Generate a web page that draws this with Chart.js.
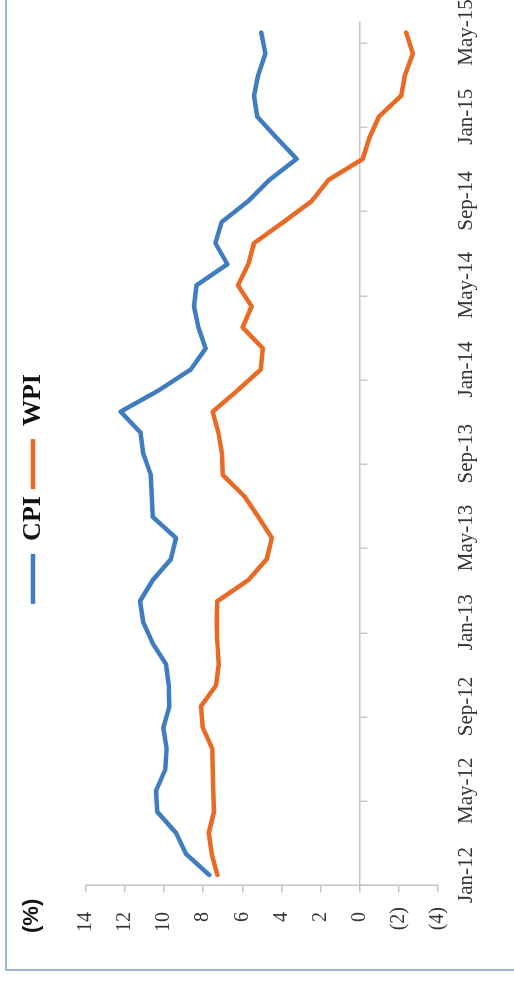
<!DOCTYPE html>
<html>
<head>
<meta charset="utf-8">
<script src="https://cdn.jsdelivr.net/npm/chart.js@4.4.0/dist/chart.umd.min.js"></script>
<style>
  html, body { margin: 0; padding: 0; background: #fff; }
  body { width: 514px; height: 983px; overflow: hidden; position: relative; }
  /* chart is drawn landscape, then turned a quarter left */
  #rot { position: absolute; left: 0; top: 0; width: 983px; height: 514px;
         transform-origin: 0 0; transform: translateY(983px) rotate(-90deg); }
  #frame { position: absolute; left: 12px; top: 5px; width: 1000px; height: 600px;
           border-top: 2px solid #9ab6df; border-left: 2px solid #9ab6df; }
  #chart { position: absolute; left: 0; top: 0; }
</style>
</head>
<body>
<div id="rot">
  <div id="frame"></div>
  <canvas id="chart" width="983" height="514"></canvas>
</div>
<script>
    // monthly inflation, Jan-12 .. May-15
    var months = ['Jan-12', 'Feb-12', 'Mar-12', 'Apr-12', 'May-12', 'Jun-12', 'Jul-12', 'Aug-12', 'Sep-12', 'Oct-12', 'Nov-12', 'Dec-12',
                  'Jan-13', 'Feb-13', 'Mar-13', 'Apr-13', 'May-13', 'Jun-13', 'Jul-13', 'Aug-13', 'Sep-13', 'Oct-13', 'Nov-13', 'Dec-13',
                  'Jan-14', 'Feb-14', 'Mar-14', 'Apr-14', 'May-14', 'Jun-14', 'Jul-14', 'Aug-14', 'Sep-14', 'Oct-14', 'Nov-14', 'Dec-14',
                  'Jan-15', 'Feb-15', 'Mar-15', 'Apr-15', 'May-15'];
    var cpi = [7.68, 8.87, 9.38, 10.34, 10.40, 9.93, 9.86, 10.03, 9.72, 9.75, 9.89, 10.57,
               11.05, 11.22, 10.57, 9.64, 9.38, 10.57, 10.62, 10.67, 11.05, 11.19, 12.21, 10.28,
               8.63, 7.87, 8.24, 8.46, 8.33, 6.76, 7.37, 7.05, 5.69, 4.62, 3.22, 4.24,
               5.23, 5.40, 5.18, 4.82, 5.03];
    var wpi = [7.27, 7.56, 7.71, 7.44, 7.48, 7.51, 7.53, 8.02, 8.11, 7.34, 7.20, 7.27,
               7.30, 7.27, 5.69, 4.75, 4.49, 5.18, 5.91, 7.00, 7.03, 7.22, 7.51, 6.25,
               5.06, 4.95, 5.98, 5.52, 6.22, 5.69, 5.40, 3.90, 2.45, 1.60, -0.15, -0.49,
               -0.97, -2.11, -2.31, -2.71, -2.36];
    var yMin = -4, yMax = 14, yStep = 2;

    var blue = '#3f7cc0', orange = '#e86a25', axisGray = '#c6c6c6', textGray = '#333';
    var serif = '"Liberation Serif", "Times New Roman", serif';

    var pctLabel = {
        id: 'pctLabel',
        afterDraw: function (chart) {
            var ctx = chart.ctx;
            ctx.save();
            ctx.font = 'bold 22px "Liberation Sans", Arial, sans-serif';
            ctx.fillStyle = '#111';
            ctx.textBaseline = 'middle';
            ctx.fillText('(%)', 50, 32);
            ctx.restore();
        }
    };

    function lineSet(label, data, color) {
        return {
            label: label, data: data,
            borderColor: color, backgroundColor: color,
            borderWidth: 4.5, pointRadius: 0, pointHoverRadius: 0,
            borderJoinStyle: 'round', borderCapStyle: 'round', tension: 0
        };
    }

    new Chart(document.getElementById('chart'), {
        type: 'line',
        data: {
            labels: months,
            datasets: [lineSet('CPI', cpi, blue), lineSet('WPI', wpi, orange)]
        },
        options: {
            responsive: false,
            animation: false,
            layout: { padding: { top: 13, left: 27, right: 22, bottom: 34.8 } },
            plugins: {
                legend: {
                    position: 'top',
                    labels: {
                        usePointStyle: true, pointStyle: 'line', pointStyleWidth: 50,
                        padding: 7, color: '#111',
                        font: { family: serif, size: 26, weight: 'bold' }
                    }
                },
                // empty block under the legend, only to leave the gap above the plot
                title: { display: true, text: '', weight: 500, padding: { top: 0, bottom: 17.5 }, font: { size: 10 } },
                tooltip: { enabled: false }
            },
            scales: {
                x: {
                    type: 'category', offset: true,
                    grid: { display: false, drawTicks: false },
                    border: { display: false },
                    ticks: {
                        autoSkip: false, maxRotation: 0, padding: 16, color: textGray,
                        font: { family: serif, size: 21 },
                        callback: function (v, i) { return i % 4 === 0 ? months[i] : ''; }
                    },
                    // the last label may run past the edge, as in the original
                    afterFit: function (s) { s.height = 41; s.paddingLeft = 0; s.paddingRight = 0; }
                },
                x0: {
                    type: 'category', axis: 'x', position: { y: 0 }, offset: true,
                    grid: {
                        offset: true, drawOnChartArea: false, tickLength: 7, lineWidth: 1.5,
                        color: function (c) { return c.index % 4 === 0 ? axisGray : 'rgba(0,0,0,0)'; }
                    },
                    border: { color: axisGray, width: 1.5 },
                    ticks: { display: false }
                },
                y: {
                    min: yMin, max: yMax,
                    grid: { drawOnChartArea: false, tickLength: 7, color: axisGray, lineWidth: 1.5 },
                    border: { color: axisGray, width: 1.5 },
                    ticks: {
                        stepSize: yStep, padding: 14.5, color: textGray,
                        font: { family: serif, size: 20 },
                        callback: function (v) { return v < 0 ? '(' + (-v) + ')' : v + ' '; }
                    },
                    afterFit: function (s) { s.width = 70.5; }
                }
            }
        },
        plugins: [pctLabel]
    });
</script>
</body>
</html>
